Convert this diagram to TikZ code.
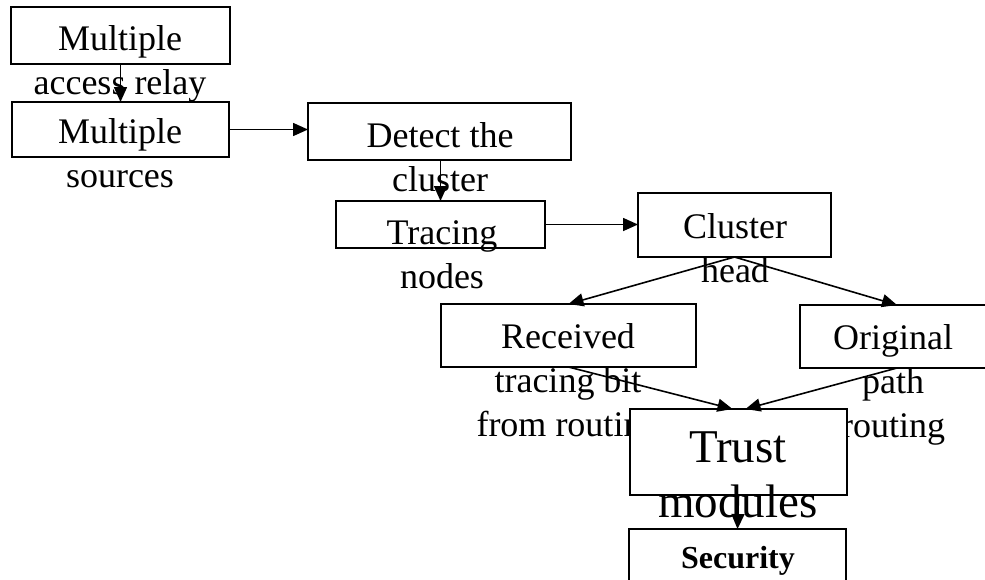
\documentclass[tikz,border=0pt]{standalone}
\usepackage{fontspec}
\setmainfont{Liberation Serif}
\usetikzlibrary{arrows.meta,calc}

% centred stack of lines whose baseline is the first line's baseline
\newcommand\boxtext[1]{\begin{tabular}[t]{@{}c@{}}#1\end{tabular}}

\tikzset{
  stepbox/.style={draw, line width=1.8pt, rectangle, inner sep=0pt, outer sep=0pt},
  lbl/.style={inner sep=0pt, anchor=base, font=\fontsize{36}{44}\selectfont},
  biglbl/.style={inner sep=0pt, anchor=base, font=\fontsize{47}{55}\selectfont},
  seclbl/.style={inner sep=0pt, anchor=base, font=\fontsize{32}{38}\selectfont\bfseries},
  flow/.style={line width=1.6pt, -{Triangle[length=15pt,width=13pt]}}
}

\begin{document}
\begin{tikzpicture}[x=1pt,y=-1pt]
\useasboundingbox (0,0) rectangle (985,579);
\clip (0,0) rectangle (985,579);

% boxes
\node[stepbox, minimum width=219pt, minimum height=57pt] (relay)    at (120.5,35.5) {};
\node[stepbox, minimum width=217pt, minimum height=55pt] (sources)  at (120.5,129.5) {};
\node[stepbox, minimum width=263pt, minimum height=57pt] (detect)   at (439.5,131.5) {};
\node[stepbox, minimum width=209pt, minimum height=47pt] (tracing)  at (440.5,224.5) {};
\node[stepbox, minimum width=193pt, minimum height=64pt] (head)     at (734.5,225) {};
\node[stepbox, minimum width=255pt, minimum height=63pt] (received) at (568.5,335.5) {};
\node[stepbox, minimum width=194pt, minimum height=63pt] (original) at (897,336.5) {};

% box texts (they run on below their boxes)
\node[lbl] (relaytxt)    at (120,50)  {\boxtext{Multiple\\access relay}};
\node[lbl] (sourcestxt)  at (120,143) {\boxtext{Multiple\\sources}};
\node[lbl] (detecttxt)   at (440,147) {\boxtext{Detect the\\cluster}};
\node[lbl] (tracingtxt)  at (442,244) {\boxtext{Tracing\\nodes}};
\node[lbl] (headtxt)     at (735,238) {\boxtext{Cluster\\head}};
\node[lbl] (receivedtxt) at (568,348) {\boxtext{Received\\tracing bit\\from routing}};
\node[lbl] (originaltxt) at (893,349) {\boxtext{Original\\path\\routing}};

% trust box covers the text running under it
\node[stepbox, fill=white, minimum width=217pt, minimum height=86pt] (trust) at (738.5,452) {};
\node[biglbl] (trusttxt) at (738,462) {\boxtext{Trust\\modules}};
\node[stepbox, minimum width=217pt, minimum height=91pt] (security) at (737.5,574.5) {};
\node[seclbl] (securitytxt) at (738,568) {Security};

% connectors
\draw[flow] (relay.south) -- (sources.north);
\draw[flow] (sources.east) -- (sources.east -| detect.west);
\draw[flow] (detect.south -| tracing.north) -- (tracing.north);
\draw[flow] (tracing.east) -- (tracing.east -| head.west);
\draw[flow] (head.south) -- (received.north);
\draw[flow] (head.south) -- (original.north);
\draw[flow] (received.south) -- ($(trust.north)+(-6,0)$);
\draw[flow] (original.south) -- ($(trust.north)+(7,0)$);
\draw[flow] (trust.south) -- (security.north);
\end{tikzpicture}
\end{document}
